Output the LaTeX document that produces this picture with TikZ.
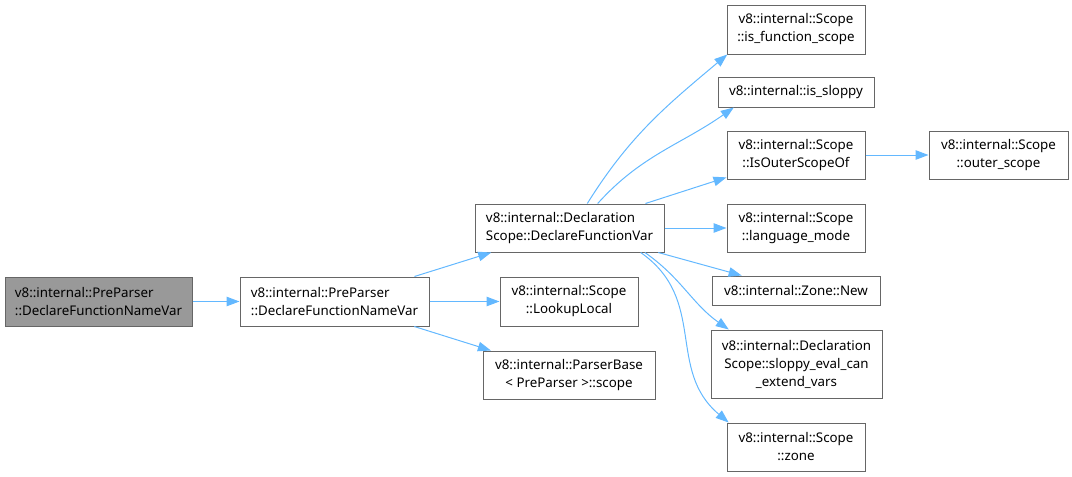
\documentclass[tikz,border=0pt]{standalone}
\usepackage{fontspec}
\setmainfont{Noto Sans}
\usetikzlibrary{arrows.meta}
\definecolor{kante}{HTML}{63B8FF}
\definecolor{rand}{HTML}{666666}
\definecolor{aktiv}{HTML}{999999}
\tikzset{
  fn/.style={draw=rand,fill=white,line width=1pt,inner sep=0pt,align=center,
    font=\fontsize{13.33}{18}\selectfont},
  fnl/.style={fn,align=left},
  ruf/.style={-{Triangle[length=13pt,width=9.5pt]},kante,line width=1pt},
}

\begin{document}
\begin{tikzpicture}[x=1pt,y=-1pt]
  \useasboundingbox (0,0) rectangle (1072,477);
  % caller chain
  \node[fnl,fill=aktiv,minimum width=187,minimum height=49] (cur) at (98.5,301.5) {v8::internal::PreParser\\::DeclareFunctionNameVar};
  \node[fnl,minimum width=189,minimum height=49] (dfnv) at (334.5,301.5) {v8::internal::PreParser\\::DeclareFunctionNameVar};
  \node[fnl,minimum width=189,minimum height=48] (dfv) at (569.5,228) {v8::internal::Declaration\\Scope::DeclareFunctionVar};
  \node[fn,minimum width=138,minimum height=49] (ll) at (569,301.5) {v8::internal::Scope\\::LookupLocal};
  \node[fn,minimum width=172,minimum height=48] (pb) at (569,375) {v8::internal::ParserBase\\< PreParser >::scope};
  % callees
  \node[fn,minimum width=138,minimum height=49] (ifs) at (796,29.5) {v8::internal::Scope\\::is\_function\_scope};
  \node[fn,minimum width=156,minimum height=30] (isl) at (796,92) {v8::internal::is\_sloppy};
  \node[fn,minimum width=138,minimum height=48] (ios) at (796,155) {v8::internal::Scope\\::IsOuterScopeOf};
  \node[fn,minimum width=139,minimum height=48] (os) at (998.5,155) {v8::internal::Scope\\::outer\_scope};
  \node[fn,minimum width=138,minimum height=48] (lm) at (796,228) {v8::internal::Scope\\::language\_mode};
  \node[fn,minimum width=168,minimum height=29] (zn) at (796,290.5) {v8::internal::Zone::New};
  \node[fn,minimum width=171,minimum height=68] (sev) at (796.5,364) {v8::internal::Declaration\\Scope::sloppy\_eval\_can\\\_extend\_vars};
  \node[fn,minimum width=138,minimum height=48] (zone) at (796,447) {v8::internal::Scope\\::zone};

  \draw[ruf] (cur) -- (dfnv);
  \draw[ruf] (dfnv) -- (dfv);
  \draw[ruf] (dfnv) -- (ll);
  \draw[ruf] (dfnv) -- (pb);
  \draw[ruf] (dfv.54) to[out=58,in=220] (ifs.200);
  \draw[ruf] (dfv.41) to[out=48,in=215] (isl.194);
  \draw[ruf] (dfv) -- (ios);
  \draw[ruf] (dfv) -- (lm);
  \draw[ruf] (dfv) -- (zn);
  \draw[ruf] (dfv.-18) to[out=-35,in=145] (sev.153);
  \draw[ruf] (dfv.-19) to[out=-35,in=140,looseness=1.1] (zone.160);
  \draw[ruf] (ios) -- (os);
\end{tikzpicture}
\end{document}
